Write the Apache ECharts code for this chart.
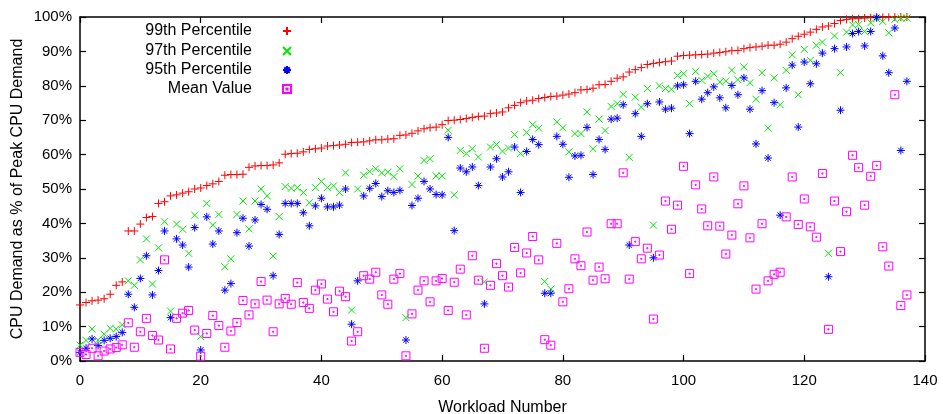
<!DOCTYPE html>
<html>
<head>
<meta charset="utf-8">
<script src="https://cdn.jsdelivr.net/npm/echarts@6/dist/echarts.min.js"></script>
<style>html,body{margin:0;padding:0;background:#fff}#c{width:943px;height:414px}</style>
</head>
<body>
<div id="c"></div>
<script>
var seriesNames = ['99th Percentile', '97th Percentile', '95th Percentile', 'Mean Value'];
var xTicks = [0, 20, 40, 60, 80, 100, 120, 140];
var yTicks = [0, 10, 20, 30, 40, 50, 60, 70, 80, 90, 100];

var p99 = [16.3,17,17.5,17.7,18.1,19.4,22,23,37.8,37.8,39.8,41.7,42,45.8,46.3,48,48.3,48.8,49.2,50,
50.3,51,51.5,52.2,54,54.2,54.2,54.3,56.3,56.7,56.8,56.8,57,57.6,60.1,60.3,60.4,60.8,61.5,61.7,
61.9,62.5,62.6,62.8,63,63.5,63.6,63.7,64,64.3,64.3,64.5,64.6,65.6,65.7,66.2,66.9,67.5,67.8,68,
68.7,69.9,70,70.2,70.5,70.8,71.1,71.2,71.9,72.1,72.4,73.6,74.3,75.1,75.6,75.8,76.3,76.6,76.9,77,
77.3,77.6,78,78.8,78.9,79.3,80.3,80.4,81.3,82.2,82.6,84,84.7,85.3,86.2,86.5,86.8,87,87.2,88.6,
88.8,88.9,89,89.1,89.2,89.5,89.7,89.9,90.2,90.3,90.8,91.1,91.3,91.5,91.8,91.8,92.1,92.7,93.7,94.4,
95,95.6,96.4,97.1,97.4,98.1,99,99.3,99.5,99.5,99.7,99.8,99.8,99.9,99.9,100,100,100];

var p97 = [4.6,6,9.3,6.1,7.8,9.5,9.3,10.5,23.3,22,29.4,35.5,22.4,32.9,40.5,14.5,39.8,38.3,31.3,42.4,
7.1,45.8,39.5,42.6,27.4,29.7,42.6,46.5,38.4,46.5,50,48,30.5,42,50.7,50.2,50.4,49,46,50.4,
52.2,50.4,50.9,49,54.7,14.8,50,54,55.1,55.9,54.7,54.9,53.6,55.9,12.6,51.3,53.8,58.3,58.8,53.8,
53.8,67.1,48.3,61.2,60.3,61.7,59.3,23,62.2,62.9,61,61.9,65.8,60.3,66.4,68.7,67.7,23.1,20.9,69.5,
67.8,60.8,66.1,66.1,72.4,61.7,70.3,67,74,74.8,77.5,59.2,76.7,73.8,79.2,39.5,80,79.2,79,83,
83.5,74.8,84.2,81.6,82.8,83.5,81.1,81.4,84.5,81.8,85.5,80.9,76.1,83.8,67.7,82.3,74.5,84.5,89,77.4,
90.6,87.4,91.8,92.7,31.3,94.5,83.8,95.6,97.7,97.8,95.8,98.3,99.5,98.7,95.4,99.3,99.7,99.7];

var p95 = [2.5,3.7,6.4,4.5,6,6.6,7.1,8.3,19.4,15.6,24,30.6,19.2,26.3,37.8,12.6,35.5,33.7,27.3,38.8,
3.2,41.9,34,37.8,20.6,22.5,37.3,41.5,33.4,41,45.5,44.1,24.8,36.8,45.8,45.8,45.8,43.1,39.3,45.1,
47.3,44.8,44.8,45.3,50,10.7,23.3,48,50.2,51.6,47.8,49.5,49,49.6,6.1,45.2,47.3,52.2,50,48.4,
48.3,65,37.9,56.1,55,56.4,51,16.6,56.4,58.8,53.5,55,62.2,49,60.9,64.4,62.9,19.7,19.7,65.3,
63,53.4,59.6,59.8,67.9,54.2,64.4,61.5,70.3,70.6,74.5,33.7,71.9,65.3,74.8,30,75.3,73.2,73.5,80,
80.3,66.1,81.3,76.1,78,79.7,76.5,73.6,80.1,77.4,82.3,73.2,63.1,78.6,59,75.1,42.4,79.4,86,68,
86.9,80.6,86.4,89.5,24.5,90.8,72.9,91.3,95.2,95.8,91.6,95.8,99.9,88.7,83.8,96.8,61.2,81.3];

var meanVal = [2.5,1.9,3.7,1.5,2.9,3.5,3.9,4.7,11.1,4,8.5,12.4,7.4,6.1,29.4,3.5,12.4,13.9,14.7,9,
1.4,8,13.2,10.3,4,8.7,11.2,17.6,13.4,16.6,23.1,17.7,8.5,16.6,18.2,16.5,22.8,17,15.3,20.6,
22.4,18,14.3,20.3,18.7,5.8,8.5,24.8,23.8,25.8,19.2,16.5,23.8,25.4,1.5,13.7,20.6,23.3,17.2,23.3,
24,14.7,22.9,26.7,13.4,30.6,23.5,3.7,22,28.3,24.8,21.5,33,25.6,31.4,36.2,29.4,6.2,4.6,34.2,
17.2,21,29.7,27.7,37.5,23.5,27.3,23.9,39.9,39.9,54.7,23.8,34.7,29.7,32.8,12.2,30.8,46.5,38.3,45.3,
56.6,25.4,51.2,44.2,39.3,53.5,39.2,31.1,36.6,45.7,50.9,35.8,20.9,39.9,23.3,25.2,25.8,41.9,53.5,39.7,
47.1,39,36,54.5,9.2,46.5,31.8,43.4,59.8,56.2,45.3,53.7,56.8,33.2,27.6,77.4,16.1,19.2];

function pts(arr){ return arr.map(function(v,i){ return [i, v]; }); }

var FONT = '"Liberation Sans", Arial, Helvetica, sans-serif';
var symbols = [
  'path://M5,0L5,10M0,5L10,5',
  'path://M0,0L10,10M10,0L0,10',
  'path://M5,0L5,10M0,5L10,5M1.6,1.6L8.4,8.4M8.4,1.6L1.6,8.4',
  'path://M0,0L10,0L10,10L0,10ZM4.3,4.3L5.7,4.3L5.7,5.7L4.3,5.7Z'
];
var colors = ['#ff0000', '#00e800', '#0000ff', '#ff00ff'];
var sizes = [8, 7, 8, 8];
var datasets = [p99, p97, p95, meanVal];

var series = datasets.map(function(d, k){
  return {
    name: seriesNames[k], type: 'scatter', data: pts(d),
    symbol: symbols[k], symbolSize: sizes[k],
    itemStyle: { color: 'rgba(0,0,0,0)', borderColor: colors[k], borderWidth: 1, opacity: 1 },
    emphasis: { disabled: true }, z: 2 + k
  };
});

var legendCenters = [31, 51, 70, 89];
var legends = seriesNames.map(function(n, k){
  return {
    data: [n], orient: 'vertical', align: 'right', right: 651, top: legendCenters[k] - 10,
    padding: 0, itemWidth: 60, itemHeight: 8, selectedMode: false,
    textStyle: { fontFamily: FONT, fontSize: 16, color: '#000', lineHeight: 20 }
  };
});

function axisCommon(){
  return {
    axisLine: { show: true, onZero: false, lineStyle: { color: '#000', width: 1.5 } },
    axisTick: { show: true, inside: true, length: 6, lineStyle: { color: '#000', width: 1.2 } },
    splitLine: { show: false }
  };
}

var xBottom = Object.assign(axisCommon(), {
  type: 'value', position: 'bottom', min: 0, max: 140, interval: 20,
  name: 'Workload Number', nameLocation: 'middle', nameGap: 39,
  nameTextStyle: { fontFamily: FONT, fontSize: 16, color: '#000' },
  axisLabel: { fontFamily: FONT, fontSize: 15, color: '#000', margin: 12,
    formatter: function(v){ return xTicks.indexOf(v) >= 0 ? String(v) : ''; } }
});
var xTop = Object.assign(axisCommon(), {
  type: 'value', position: 'top', min: 0, max: 140, interval: 20, axisLabel: { show: false }
});
var yLeft = Object.assign(axisCommon(), {
  type: 'value', position: 'left', min: 0, max: 100, interval: 10,
  name: 'CPU Demand as % of Peak CPU Demand', nameLocation: 'middle', nameGap: 54,
  nameMoveOverlap: false,
  nameTextStyle: { fontFamily: FONT, fontSize: 16, color: '#000' },
  axisLabel: { fontFamily: FONT, fontSize: 15, color: '#000', margin: 8,
    formatter: function(v){ return yTicks.indexOf(v) >= 0 ? v + '%' : ''; } }
});
var yRight = Object.assign(axisCommon(), {
  type: 'value', position: 'right', min: 0, max: 100, interval: 10, axisLabel: { show: false }
});

var chart = echarts.init(document.getElementById('c'), null, { renderer: 'canvas' });
chart.setOption({
  animation: false,
  backgroundColor: '#fff',
  grid: { left: 80, right: 18, top: 17, bottom: 53, containLabel: false, outerBoundsMode: 'none' },
  legend: legends,
  xAxis: [xBottom, xTop],
  yAxis: [yLeft, yRight],
  series: series
});
</script>
</body>
</html>
